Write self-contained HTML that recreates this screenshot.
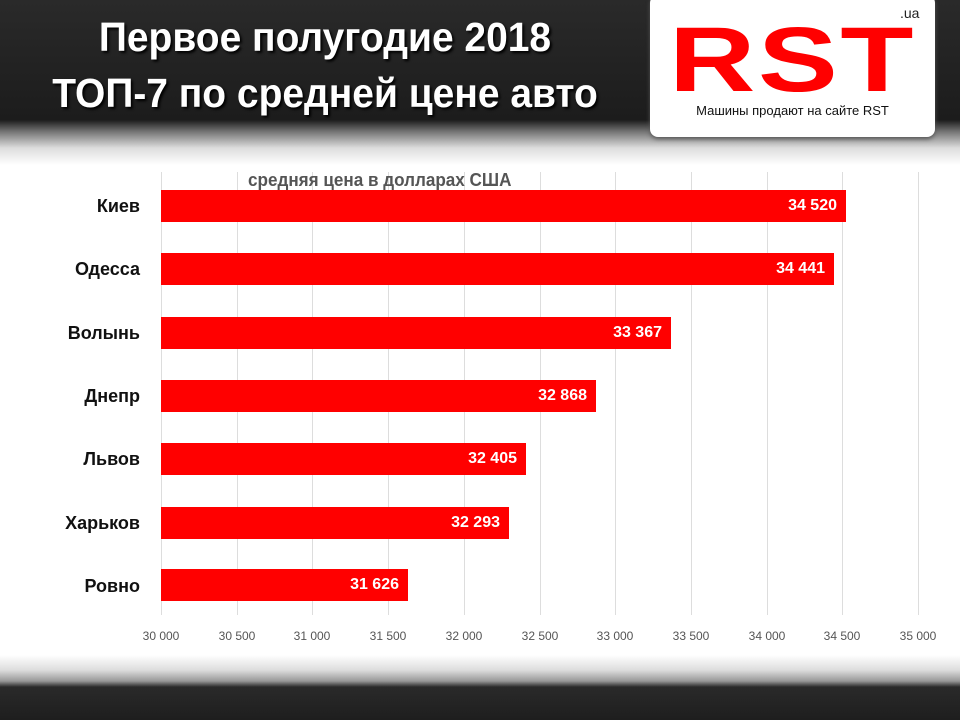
<!DOCTYPE html>
<html><head><meta charset="utf-8"><style>
*{margin:0;padding:0}
body{width:960px;height:720px;position:relative;overflow:hidden;background:#fff;font-family:"Liberation Sans",sans-serif}
.hdr{position:absolute;left:0;top:0;width:960px;height:165px;background:linear-gradient(#2a2a2a 0,#1c1c1c 120px,#777 132px,#ddd 148px,#fff 165px)}
.ftr{position:absolute;left:0;top:655px;width:960px;height:65px;background:linear-gradient(#fff 0,#ddd 15px,#999 26px,#2a2a2a 32px,#1e1e1e 65px)}
.t{position:absolute;left:0;width:650px;text-align:center;color:#fff;font-weight:bold;font-size:41px;transform:scaleX(.95);text-shadow:2px 2px 3px #000}
.logo{position:absolute;left:650px;top:-5px;width:285px;height:142px;background:#fff;border-radius:8px;box-shadow:0 2px 4px #555}
.rst{position:absolute;left:10px;top:10px;width:265px;text-align:center;color:#f00;font-weight:bold;font-size:92px;letter-spacing:2px;line-height:110px;transform:scaleX(1.3)}
.ua{position:absolute;left:250px;top:10px;font-size:14px;color:#222}
.sub{position:absolute;left:0;width:285px;top:108px;text-align:center;font-size:13px;color:#111}
.cat{position:absolute;right:820px;font-weight:bold;font-size:18px;color:#111}
.bar{position:absolute;left:161px;height:32px;background:#f00}
.bar span{position:absolute;right:9px;top:7px;color:#fff;font-weight:bold;font-size:16px}
.g{position:absolute;top:172px;height:443px;width:1px;background:#ddd}
.tk{position:absolute;top:629px;width:60px;margin-left:-30px;text-align:center;font-size:12px;color:#555}
</style></head><body>
<div class="hdr"></div>
<div class="t" style="top:14px">Первое полугодие 2018</div>
<div class="t" style="top:70px">ТОП-7 по средней цене авто</div>
<div class="logo"><div class="rst">RST</div><div class="ua">.ua</div><div class="sub">Машины продают на сайте RST</div></div>
<div class="ftr"></div>
<div class="g" style="left:161px"></div><div class="g" style="left:237px"></div><div class="g" style="left:312px"></div><div class="g" style="left:388px"></div><div class="g" style="left:464px"></div><div class="g" style="left:540px"></div><div class="g" style="left:615px"></div><div class="g" style="left:691px"></div><div class="g" style="left:767px"></div><div class="g" style="left:842px"></div><div class="g" style="left:918px"></div>
<div style="position:absolute;left:248px;top:170px;font-weight:bold;font-size:18px;color:#555;transform:scaleX(.95);transform-origin:left">средняя цена в долларах США</div>
<div class="cat" style="top:196px">Киев</div><div class="bar" style="top:190px;width:685px"><span>34 520</span></div>
<div class="cat" style="top:259px">Одесса</div><div class="bar" style="top:253px;width:673px"><span>34 441</span></div>
<div class="cat" style="top:323px">Волынь</div><div class="bar" style="top:317px;width:510px"><span>33 367</span></div>
<div class="cat" style="top:386px">Днепр</div><div class="bar" style="top:380px;width:435px"><span>32 868</span></div>
<div class="cat" style="top:449px">Львов</div><div class="bar" style="top:443px;width:365px"><span>32 405</span></div>
<div class="cat" style="top:513px">Харьков</div><div class="bar" style="top:507px;width:348px"><span>32 293</span></div>
<div class="cat" style="top:576px">Ровно</div><div class="bar" style="top:569px;width:247px"><span>31 626</span></div>
<div class="tk" style="left:161px">30 000</div><div class="tk" style="left:237px">30 500</div><div class="tk" style="left:312px">31 000</div><div class="tk" style="left:388px">31 500</div><div class="tk" style="left:464px">32 000</div><div class="tk" style="left:540px">32 500</div><div class="tk" style="left:615px">33 000</div><div class="tk" style="left:691px">33 500</div><div class="tk" style="left:767px">34 000</div><div class="tk" style="left:842px">34 500</div><div class="tk" style="left:918px">35 000</div>
</body></html>
